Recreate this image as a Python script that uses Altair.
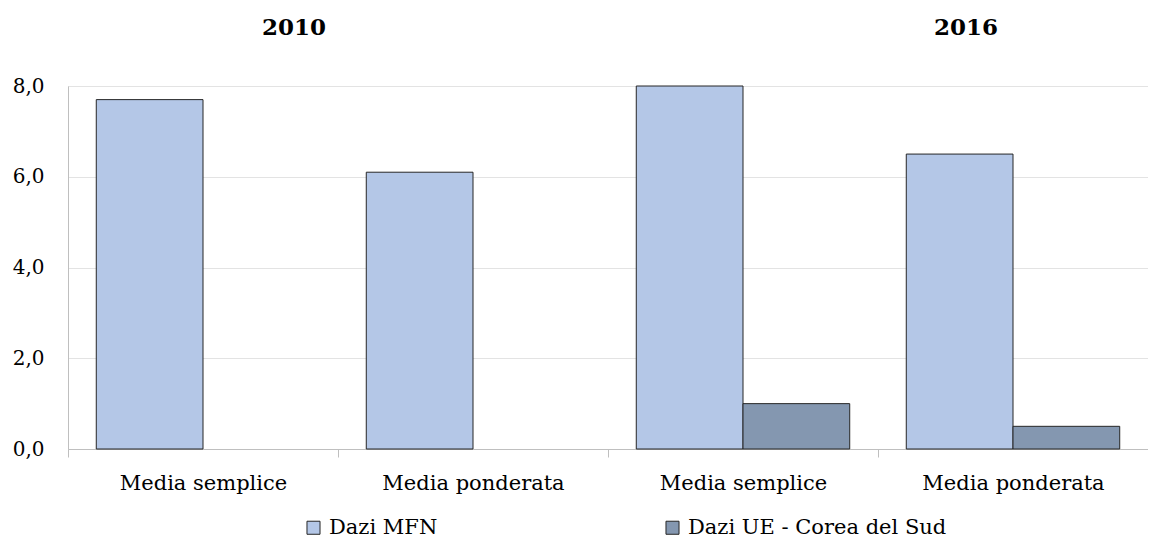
import altair as alt
import pandas as pd

years = ["2010", "2010", "2016", "2016"]
measures = ["Media semplice", "Media ponderata", "Media semplice", "Media ponderata"]
series_names = ["Dazi MFN", "Dazi UE - Corea del Sud"]
mfn = [7.7, 6.1, 8.0, 6.5]
ue_korea = [None, None, 1.0, 0.5]
y_ticks = [0, 2, 4, 6, 8]
year_titles = ["2010", "2016"]
colors = ["#B4C7E7", "#8497B0"]

rows = []
for yr, m, a, b in zip(years, measures, mfn, ue_korea):
    key = f"{yr}|{m}"
    rows.append({"group": key, "serie": series_names[0], "valore": a})
    if b is not None:
        rows.append({"group": key, "serie": series_names[1], "valore": b})
df = pd.DataFrame(rows)
group_order = [f"{y}|{m}" for y, m in zip(years, measures)]

FONT = "DejaVu Serif"
W, H = 1080, 363

bars = alt.Chart(df).mark_bar(stroke="#262626", strokeWidth=1).encode(
    x=alt.X("group:N", sort=group_order, title=None,
            scale=alt.Scale(paddingInner=0, paddingOuter=0),
            axis=alt.Axis(labelExpr="split(datum.label, '|')[1]", labelAngle=0,
                          labelFont=FONT, labelFontSize=21, labelColor="#000000",
                          labelPadding=15, labelLimit=400, tickBand="extent", tickSize=8,
                          tickColor="#bfbfbf", domainColor="#bfbfbf", grid=False)),
    xOffset=alt.XOffset("serie:N", sort=series_names,
                        scale=alt.Scale(paddingOuter=0.265, paddingInner=0)),
    y=alt.Y("valore:Q", title=None,
            scale=alt.Scale(domain=[0, 8], nice=False),
            axis=alt.Axis(values=y_ticks, labelExpr="replace(format(datum.value, '.1f'), '.', ',')",
                          labelFont=FONT, labelFontSize=20, labelColor="#000000",
                          ticks=False, labelPadding=24, domainColor="#bfbfbf",
                          gridColor="#e3e3e3", minExtent=55, maxExtent=55)),
    color=alt.Color("serie:N", sort=series_names,
                    scale=alt.Scale(domain=series_names, range=colors),
                    legend=alt.Legend(title=None, orient="none", legendX=235, legendY=431,
                                      direction="horizontal", columns=2, columnPadding=224,
                                      symbolType="square", symbolSize=170,
                                      symbolStrokeColor="#262626", symbolStrokeWidth=1,
                                      labelFont=FONT, labelFontSize=21, labelColor="#000000",
                                      labelOffset=5, labelLimit=400)),
)

titles_df = pd.DataFrame({"anno": year_titles, "px": [226, 898]})
titles = alt.Chart(titles_df).mark_text(font=FONT, fontSize=23, fontWeight="bold",
                                        color="#000000", baseline="middle").encode(
    text="anno:N",
    x=alt.X("px:Q", scale=None),
    y=alt.value(-58),
)

chart = alt.layer(bars, titles).properties(
    width=W, height=H,
    autosize=alt.AutoSizeParams(type="none"),
    padding={"left": 60, "top": 78, "right": 0, "bottom": 96},
).configure_view(stroke=None).configure(background="#ffffff")

chart.save("out.html", embed_options={"renderer": "svg", "actions": False})
